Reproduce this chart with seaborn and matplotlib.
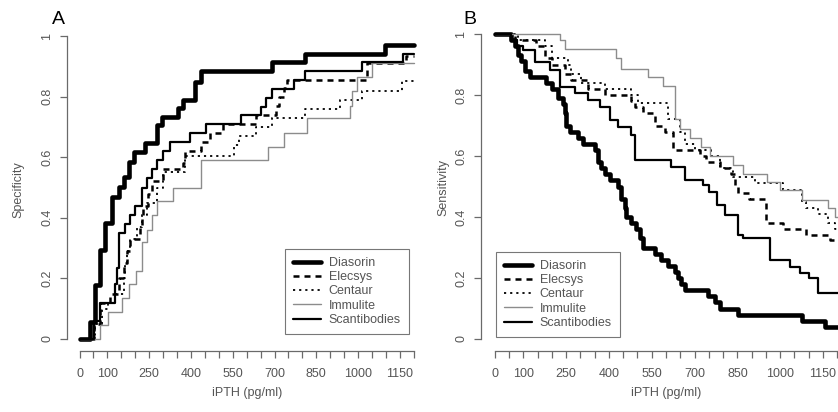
import matplotlib
matplotlib.use("Agg")
import matplotlib.pyplot as plt
import numpy as np
import seaborn as sns

# Curvas em degrau (limiar iPTH em pg/ml, valor)
assays = ["Diasorin", "Elecsys", "Centaur", "Immulite", "Scantibodies"]

# Painel A - especificidade
diasorin_a_x = [0, 39, 55, 75, 93, 116, 140, 158, 176, 194, 235, 277, 295, 354, 372, 413, 437, 692, 811, 1096, 1200]
diasorin_a_y = [0, 0.055, 0.178, 0.294, 0.383, 0.47, 0.503, 0.536, 0.585, 0.618, 0.647, 0.706, 0.734, 0.761, 0.789, 0.849, 0.885, 0.915, 0.94, 0.97, 0.97]
elecsys_a_x = [0, 51, 75, 110, 140, 158, 170, 182, 217, 223, 229, 247, 259, 300, 372, 378, 437, 467, 514, 633, 704, 716, 734, 746, 1031, 1173, 1200]
elecsys_a_y = [0, 0.05, 0.12, 0.15, 0.2, 0.25, 0.29, 0.33, 0.37, 0.41, 0.44, 0.48, 0.52, 0.56, 0.58, 0.62, 0.65, 0.68, 0.71, 0.74, 0.77, 0.80, 0.83, 0.855, 0.91, 0.935, 0.935]
centaur_a_x = [0, 57, 80, 104, 128, 158, 164, 170, 182, 205, 223, 241, 277, 300, 378, 556, 574, 633, 692, 811, 936, 1013, 1156, 1200]
centaur_a_y = [0, 0.05, 0.10, 0.12, 0.15, 0.2, 0.25, 0.29, 0.33, 0.37, 0.41, 0.45, 0.50, 0.55, 0.605, 0.64, 0.67, 0.70, 0.73, 0.76, 0.79, 0.82, 0.85, 0.85]
immulite_a_x = [0, 75, 101, 152, 176, 203, 223, 241, 259, 277, 336, 437, 675, 734, 817, 971, 978, 995, 1049, 1200]
immulite_a_y = [0, 0.045, 0.09, 0.135, 0.18, 0.225, 0.32, 0.36, 0.41, 0.455, 0.5, 0.59, 0.635, 0.68, 0.73, 0.77, 0.82, 0.865, 0.91, 0.91]
scanti_a_x = [0, 53, 75, 128, 134, 140, 164, 182, 200, 223, 241, 259, 277, 300, 324, 395, 455, 580, 651, 669, 692, 770, 811, 1013, 1161, 1200]
scanti_a_y = [0, 0.06, 0.12, 0.18, 0.235, 0.35, 0.38, 0.41, 0.44, 0.50, 0.53, 0.56, 0.59, 0.62, 0.65, 0.68, 0.71, 0.74, 0.765, 0.795, 0.825, 0.855, 0.885, 0.915, 0.94, 0.94]

# Painel B - sensibilidade
diasorin_b_x = [0, 58, 70, 82, 93, 105, 123, 181, 199, 222, 240, 246, 251, 263, 292, 310, 350, 362, 374, 386, 403, 432, 444, 455, 461, 479, 496, 508, 520, 561, 584, 607, 631, 643, 654, 666, 748, 771, 789, 853, 1075, 1157, 1230]
diasorin_b_y = [1, 0.98, 0.96, 0.93, 0.91, 0.88, 0.86, 0.84, 0.82, 0.79, 0.77, 0.74, 0.70, 0.68, 0.66, 0.64, 0.62, 0.58, 0.56, 0.54, 0.52, 0.50, 0.46, 0.43, 0.40, 0.38, 0.36, 0.33, 0.30, 0.28, 0.26, 0.24, 0.22, 0.20, 0.18, 0.16, 0.14, 0.12, 0.10, 0.08, 0.06, 0.04, 0.04]
elecsys_b_x = [0, 70, 146, 175, 199, 245, 269, 327, 385, 479, 492, 520, 561, 596, 625, 719, 740, 790, 828, 840, 853, 890, 950, 1010, 1091, 1173, 1230]
elecsys_b_y = [1, 0.98, 0.96, 0.92, 0.90, 0.87, 0.85, 0.82, 0.80, 0.78, 0.76, 0.74, 0.70, 0.68, 0.62, 0.60, 0.58, 0.56, 0.54, 0.50, 0.48, 0.46, 0.38, 0.36, 0.34, 0.325, 0.325]
centaur_b_x = [0, 82, 93, 175, 199, 257, 269, 304, 386, 479, 502, 607, 648, 666, 701, 759, 789, 835, 911, 1010, 1075, 1092, 1133, 1168, 1192, 1230]
centaur_b_y = [1, 0.98, 0.98, 0.96, 0.92, 0.90, 0.87, 0.84, 0.82, 0.80, 0.775, 0.72, 0.68, 0.64, 0.62, 0.60, 0.56, 0.53, 0.51, 0.49, 0.45, 0.43, 0.41, 0.38, 0.36, 0.36]
immulite_b_x = [0, 228, 245, 426, 444, 537, 590, 631, 648, 683, 724, 753, 835, 870, 952, 999, 1075, 1168, 1192, 1230]
immulite_b_y = [1, 0.98, 0.95, 0.92, 0.885, 0.86, 0.83, 0.72, 0.69, 0.66, 0.63, 0.60, 0.57, 0.54, 0.515, 0.49, 0.455, 0.43, 0.40, 0.40]
scanti_b_x = [0, 58, 77, 100, 141, 193, 229, 281, 327, 368, 403, 432, 479, 490, 619, 666, 730, 750, 778, 806, 853, 870, 963, 1033, 1068, 1100, 1133, 1230]
scanti_b_y = [1, 0.98, 0.96, 0.947, 0.909, 0.882, 0.827, 0.808, 0.784, 0.762, 0.718, 0.696, 0.669, 0.587, 0.565, 0.521, 0.505, 0.483, 0.44, 0.407, 0.341, 0.33, 0.259, 0.237, 0.216, 0.2, 0.15, 0.15]

x_ticks = list(range(0, 1201, 50))
x_labels = [0, 100, 250, 400, 550, 700, 850, 1000, 1150]
y_ticks = [0, 0.2, 0.4, 0.6, 0.8, 1]
y_labels = ["0", "0.2", "0.4", "0.6", "0.8", "1"]

sns.set_style("white")
plt.rcParams["font.family"] = ["Liberation Sans", "DejaVu Sans"]

AX_COL = "#6a6a6a"
TXT_COL = "#555555"
W, H = 838, 412

styles = {
    "Diasorin": dict(color="black", linewidth=3.3, linestyle="-"),
    "Elecsys": dict(color="black", linewidth=1.8, linestyle=(0, (2.4, 2.0))),
    "Centaur": dict(color="black", linewidth=1.3, linestyle=(0, (1.2, 2.2))),
    "Immulite": dict(color="#8c8c8c", linewidth=1.0, linestyle="-"),
    "Scantibodies": dict(color="black", linewidth=1.6, linestyle="-"),
}


def fig_box(left, top, right, bottom):
    # pixel box (origem no topo) -> coordenadas da figura
    return [left / W, 1 - bottom / H, (right - left) / W, (bottom - top) / H]


def style_axis(ax, xmin, xmax):
    ax.set_xlim(xmin, xmax)
    ax.set_ylim(-0.04, 1.04)
    for s in ["top", "right"]:
        ax.spines[s].set_visible(False)
    for s in ["left", "bottom"]:
        ax.spines[s].set_color(AX_COL)
        ax.spines[s].set_linewidth(0.9)
    ax.spines["left"].set_bounds(0, 1)
    ax.spines["bottom"].set_bounds(0, 1200)
    ax.set_xticks(x_ticks)
    ax.set_xticklabels([str(t) if t in x_labels else "" for t in x_ticks])
    ax.set_yticks(y_ticks)
    ax.set_yticklabels(y_labels)
    ax.tick_params(axis="both", direction="out", length=5, width=0.9,
                   color=AX_COL, labelcolor=TXT_COL, labelsize=9,
                   bottom=True, left=True)
    ax.tick_params(axis="x", pad=7)
    ax.tick_params(axis="y", pad=5)
    for lab in ax.get_yticklabels():
        lab.set_rotation(90)
        lab.set_va("center")
    ax.set_xlabel("")
    ax.set_ylabel("")


fig = plt.figure(figsize=(W / 100, H / 100), dpi=100)
ax_a = fig.add_axes(fig_box(67, 23.9, 425, 351.1))
ax_b = fig.add_axes(fig_box(481.3, 21.8, 851.6, 351.2))

data_a = {
    "Diasorin": (diasorin_a_x, diasorin_a_y),
    "Elecsys": (elecsys_a_x, elecsys_a_y),
    "Centaur": (centaur_a_x, centaur_a_y),
    "Immulite": (immulite_a_x, immulite_a_y),
    "Scantibodies": (scanti_a_x, scanti_a_y),
}
data_b = {
    "Diasorin": (diasorin_b_x, diasorin_b_y),
    "Elecsys": (elecsys_b_x, elecsys_b_y),
    "Centaur": (centaur_b_x, centaur_b_y),
    "Immulite": (immulite_b_x, immulite_b_y),
    "Scantibodies": (scanti_b_x, scanti_b_y),
}

for ax, data in [(ax_a, data_a), (ax_b, data_b)]:
    for name in assays:
        xs, ys = data[name]
        sns.lineplot(x=np.array(xs), y=np.array(ys), ax=ax, drawstyle="steps-post",
                     estimator=None, sort=False, label=name, **styles[name])

style_axis(ax_a, -44.9, 1240)
style_axis(ax_b, -46.9, 1250)

leg_kw = dict(frameon=True, fancybox=False, framealpha=1, edgecolor="#777777",
              fontsize=9, handlelength=2.2, handletextpad=0.65, labelspacing=0.18,
              borderpad=0.65, borderaxespad=0, labelcolor=TXT_COL,
              bbox_transform=fig.transFigure)
leg_a = ax_a.legend(loc="lower right", bbox_to_anchor=(409 / W, 1 - 334 / H), **leg_kw)
leg_b = ax_b.legend(loc="lower left", bbox_to_anchor=(496 / W, 1 - 337 / H), **leg_kw)
for leg in [leg_a, leg_b]:
    leg.get_frame().set_linewidth(0.8)

# rótulos
fig.text(58 / W, 1 - 20 / H, "A", fontsize=14, ha="center", va="center", color="black")
fig.text(470 / W, 1 - 20 / H, "B", fontsize=14, ha="center", va="center", color="black")
fig.text(18 / W, 1 - 190 / H, "Specificity", rotation=90, fontsize=9,
         ha="center", va="center", color=TXT_COL)
fig.text(443 / W, 1 - 188 / H, "Sensitivity", rotation=90, fontsize=9,
         ha="center", va="center", color=TXT_COL)
fig.text(247 / W, 1 - 393 / H, "iPTH (pg/ml)", fontsize=9, ha="center", va="center", color=TXT_COL)
fig.text(666 / W, 1 - 393 / H, "iPTH (pg/ml)", fontsize=9, ha="center", va="center", color=TXT_COL)

fig.savefig("out.png", dpi=100)
